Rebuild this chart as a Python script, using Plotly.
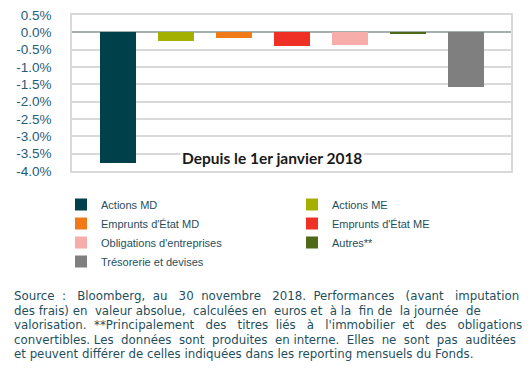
import plotly.graph_objects as go

categories = ["Actions MD", "Actions ME", "Emprunts d'État MD", "Emprunts d'État ME",
              "Obligations d'entreprises", "Autres**", "Trésorerie et devises"]
values = [-3.77, -0.24, -0.15, -0.38, -0.37, -0.05, -1.57]
colors = ["#00404B", "#A3B000", "#F07A18", "#EE3124", "#F7ADAA", "#4E6A18", "#7F7F7F"]
tick_vals = [0.5, 0.0, -0.5, -1.0, -1.5, -2.0, -2.5, -3.0, -3.5, -4.0]
tick_text = ["0.5%", "0.0%", "-0.5%", "-1.0%", "-1.5%", "-2.0%", "-2.5%", "-3.0%", "-3.5%", "-4.0%"]
period_label = "Depuis le 1er janvier 2018"
footnote_lines = [
    "Source : Bloomberg, au 30 novembre 2018. Performances (avant imputation",
    "des frais) en valeur absolue, calculées en euros et à la fin de la journée de",
    "valorisation. **Principalement des titres liés à l'immobilier et des obligations",
    "convertibles. Les données sont produites en interne. Elles ne sont pas auditées",
    "et peuvent différer de celles indiquées dans les reporting mensuels du Fonds.",
]
# extra non-breaking spaces used to approximate the justified paragraph
justify_extra = [14, 7, 15, 9, 0]

def justify(line, extra):
    words = line.split(" ")
    gaps = len(words) - 1
    if extra <= 0 or gaps <= 0:
        return line
    out = words[0]
    for g in range(gaps):
        n = (extra * (g + 1)) // gaps - (extra * g) // gaps
        out += " " + "\u00a0" * n + words[g + 1]
    return out

fig = go.Figure()
for i, (c, v, col) in enumerate(zip(categories, values, colors)):
    fig.add_trace(go.Bar(x=[i], y=[v], name=c, marker=dict(color=col, line=dict(width=0)),
                         width=0.62))

# page body adds an 8px offset; figure is sized so it ends at the window edge
OFF = 8
W, H = 531 - OFF, 376 - OFF
plot_left, plot_right, plot_top, plot_bottom = 72, 511, 15, 171  # screen px
ml = plot_left - OFF
mt = plot_top - OFF
pw = plot_right - plot_left
ph = plot_bottom - plot_top
mr = W - ml - pw
mb = H - mt - ph

def px_x(s):
    return (s - plot_left) / pw

def px_y(s):
    return (plot_bottom - s) / ph

fig.update_layout(
    width=W, height=H,
    margin=dict(l=ml, r=mr, t=mt, b=mb, pad=0, autoexpand=False),
    paper_bgcolor="white", plot_bgcolor="white",
    showlegend=True,
    bargap=0,
    legend=dict(orientation="h", x=px_x(61), y=px_y(190), xanchor="left", yanchor="top",
                entrywidth=186, entrywidthmode="pixels", itemwidth=30,
                font=dict(family="Liberation Sans, Arial", size=11, color="#1F4F5C"),
                traceorder="normal", itemclick=False, itemdoubleclick=False),
    xaxis=dict(range=[-0.79, 6.78], showticklabels=False, showgrid=False, zeroline=False,
               showline=True, linecolor="#D9D9D9", linewidth=1.5, mirror=True,
               fixedrange=True, automargin=False),
    yaxis=dict(range=[-4.0, 0.5], tickvals=tick_vals, ticktext=tick_text,
               showgrid=True, gridcolor="#D9D9D9", gridwidth=1.5,
               zeroline=True, zerolinecolor="#A6AFAF", zerolinewidth=1.5,
               showline=True, linecolor="#D9D9D9", linewidth=1.5, mirror=True,
               ticks="", ticklabelstandoff=16, automargin=False,
               ticklabeloverflow="allow",
               tickfont=dict(family="Liberation Sans, Arial", size=13.5, color="#1F5C7A"),
               fixedrange=True),
)

fig.add_annotation(x=px_x(272), y=px_y(158), xref="paper", yref="paper",
                   text="<b>" + period_label + "</b>", showarrow=False,
                   font=dict(family="Lato, Open Sans", size=15.5, color="#1A1A1A"),
                   bgcolor="white", xanchor="center", yanchor="middle",
                   borderpad=1)

line_y = [296, 310.5, 325, 339.5, 354]
for t, ex, yy in zip(footnote_lines, justify_extra, line_y):
    fig.add_annotation(x=px_x(12), y=px_y(yy), xref="paper", yref="paper", text=justify(t, ex),
                       showarrow=False, xanchor="left", yanchor="middle",
                       font=dict(family="DejaVu Sans", size=11.8, color="#1F4F5C"))

fig.write_html("out.html")
